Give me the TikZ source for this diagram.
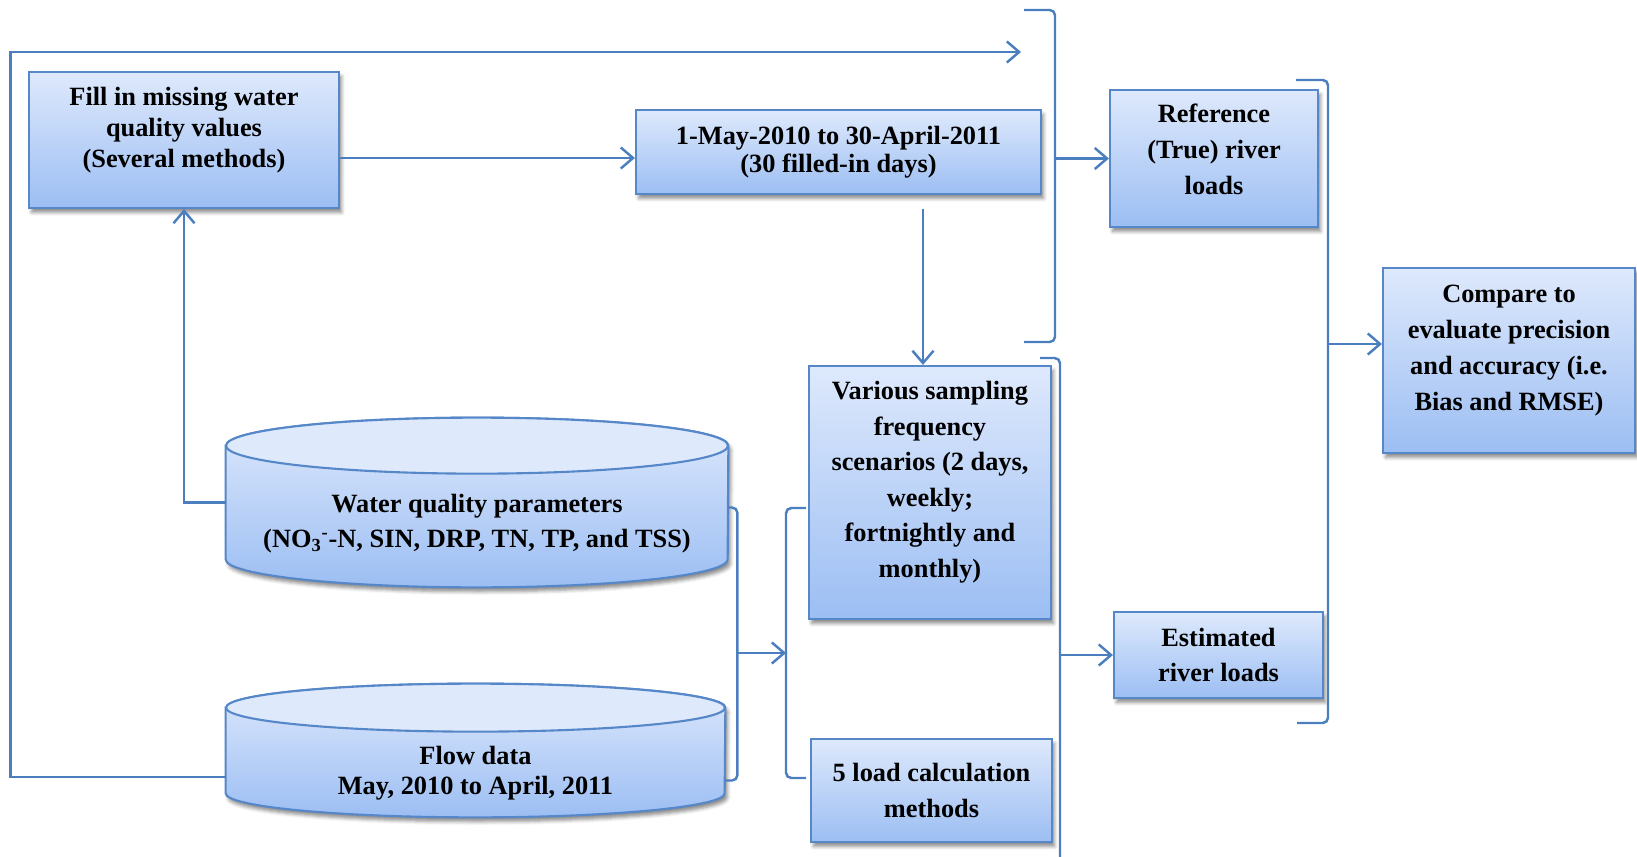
\documentclass[tikz,border=0pt]{standalone}
\usepackage{amsmath}
\usepackage{fontspec}
\setmainfont{Liberation Serif}
\usetikzlibrary{arrows.meta, calc, shadows.blur}

\definecolor{linkblue}{RGB}{74,126,190}
\definecolor{boxtop}{RGB}{222,233,252}
\definecolor{boxbottom}{RGB}{156,190,243}
\definecolor{boxedge}{RGB}{86,135,200}

\begin{document}
\begin{tikzpicture}[
            x=0.2mm, y=-0.2mm,
            box/.style={draw=boxedge, line width=1.2pt, rectangle, top color=boxtop, bottom color=boxbottom, align=center, inner sep=2pt, font=\bfseries\fontsize{15}{20.4}\selectfont, blur shadow={shadow xshift=1.5pt, shadow yshift=-2.5pt, shadow blur radius=2pt, shadow opacity=45}},
            raised/.style={text depth=0.52cm},
            cylbody/.style={rectangle, inner sep=0pt},
            cylshape/.style={draw=boxedge, line width=1.2pt, top color=boxtop, bottom color=boxbottom, blur shadow={shadow xshift=1.5pt, shadow yshift=-2.5pt, shadow blur radius=2pt, shadow opacity=45}},
            cyltext/.style={align=center, font=\bfseries\fontsize{15}{20}\selectfont},
            arrow/.style={-{Straight Barb[length=7pt, width=12pt]}, line width=1.4pt, draw=linkblue},
            brace/.style={line width=1.4pt, draw=linkblue, rounded corners=3pt}
        ]
        \useasboundingbox (0,0) rectangle (1637,857);

        % --- Boxes ---
        \node[box, raised, font=\bfseries\fontsize{15}{17.6}\selectfont, minimum width=6.2cm, minimum height=2.72cm] (fill) at (184,140) {Fill in missing water\\quality values\\(Several methods)};
        \node[box, font=\bfseries\fontsize{15}{16}\selectfont, minimum width=8.1cm, minimum height=1.68cm] (date) at (838.5,152) {1-May-2010 to 30-April-2011\\(30 filled-in days)};
        \node[box, raised, text depth=0.36cm, minimum width=4.16cm, minimum height=2.74cm] (ref) at (1214,158.5) {Reference\\(True) river\\loads};
        \node[box, raised, minimum width=5.04cm, minimum height=3.7cm] (compare) at (1509,360.5) {Compare to\\evaluate precision\\and accuracy (i.e.\\Bias and RMSE)};
        \node[box, raised, font=\bfseries\fontsize{15}{20.2}\selectfont, minimum width=4.84cm, minimum height=5.06cm] (various) at (930,492.5) {Various sampling\\frequency\\scenarios (2 days,\\weekly;\\fortnightly and\\monthly)};
        \node[box, minimum width=4.82cm, minimum height=2.06cm] (load) at (931.5,790.5) {5 load calculation\\methods};
        \node[box, minimum width=4.18cm, minimum height=1.72cm] (est) at (1218.5,655) {Estimated\\river loads};

        % --- Data cylinders ---
        \node[cylbody, minimum width=10.04cm, minimum height=2.26cm] (wq) at (477,502.5) {};
        \path[cylshape] (wq.north west) -- (wq.south west) arc[start angle=180, end angle=360, x radius=5.02cm, y radius=0.56cm] -- (wq.north east) arc[start angle=0, end angle=180, x radius=5.02cm, y radius=0.56cm] -- cycle;
        \draw[draw=boxedge, line width=1.2pt, fill=boxtop] (wq.north) ellipse [x radius=5.02cm, y radius=0.56cm];
        \node[cyltext] (wqtext) at ($(wq.center)+(0,21)$) {Water quality parameters\\(NO\textsubscript{3}\textsuperscript{-}-N, SIN, DRP, TN, TP, and TSS)};

        \node[cylbody, minimum width=9.98cm, minimum height=1.7cm] (flow) at (475.5,750.5) {};
        \path[cylshape] (flow.north west) -- (flow.south west) arc[start angle=180, end angle=360, x radius=4.99cm, y radius=0.48cm] -- (flow.north east) arc[start angle=0, end angle=180, x radius=4.99cm, y radius=0.48cm] -- cycle;
        \draw[draw=boxedge, line width=1.2pt, fill=boxtop] (flow.north) ellipse [x radius=4.99cm, y radius=0.48cm];
        \node[cyltext, font=\bfseries\fontsize{15}{17}\selectfont] (flowtext) at ($(flow.center)+(0,22.5)$) {Flow data\\May, 2010 to April, 2011};

        % --- Connectors ---
        \coordinate (dateIn) at ($(date.west)+(0,6)$);
        \draw[arrow] (fill.east |- dateIn) -- (dateIn);
        \coordinate (variousIn) at ($(various.north)+(-7,0)$);
        \draw[arrow, shorten <=0.28cm] (date.south -| variousIn) -- (variousIn);
        \draw[arrow] (wq.west) -| (fill.south);

        \coordinate (fbtip) at (1021,52);
        \draw[arrow] ($(flow.west)+(0,26.5)$) -- ++(-215,0) |- (fbtip);

        % cylinders feed the scenarios
        \draw[brace] ($(wq.east)+(0,5)$) -- ++(9,0) |- ($(flow.east)+(0,30)$);
        \coordinate (joinL) at (737,653);
        \coordinate (joinR) at (786,653);
        \draw[arrow] (joinL) -- (joinR);
        \draw[brace] (806,508) -- (786,508) -- (786,778) -- (806,778);

        % brackets on the right
        \draw[brace] (1024,10) -- (1055,10) -- (1055,342) -- (1024,342);
        \coordinate (brA) at (1055,158.5);
        \draw[arrow] (brA) -- (ref.west);

        \draw[brace] (1040,358) -- (1060,358) -- (1060,880) -- (1040,880);
        \coordinate (brB) at (1060,655);
        \draw[arrow] (brB) -- (est.west);

        \draw[brace] (1296,80) -- (1328,80) -- (1328,723) -- (1297,723);
        \coordinate (brC) at (1328,344);
        \draw[arrow] (brC) -- (brC -| compare.west);

    \end{tikzpicture}
\end{document}
